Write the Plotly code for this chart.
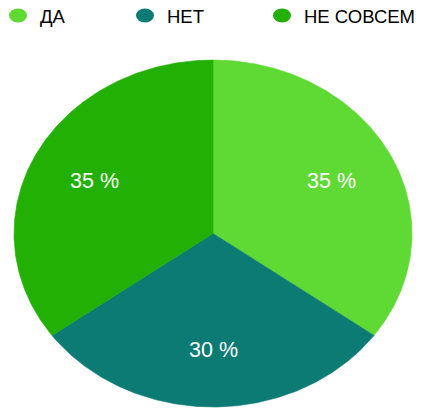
import numpy as np
import plotly.graph_objects as go

categories = ["ДА", "НЕТ", "НЕ СОВСЕМ"]
values = [35, 30, 35]
labels = ["35 %", "30 %", "35 %"]
colors = ["#5fd934", "#0b7b74", "#22b004"]

W, H = 425, 416
cx, cy = 213, 233.5
rx, ry = 199, 173.5
label_r = 0.67
FONT = "Liberation Sans, Arial"

fig = go.Figure()
total = sum(values)
start = 0.0
for cat, val, lab, col in zip(categories, values, labels, colors):
    a0 = start / total * 2 * np.pi
    a1 = (start + val) / total * 2 * np.pi
    t = np.linspace(a0, a1, 200)
    xs = np.concatenate([[cx], cx + rx * np.sin(t), [cx]])
    ys = np.concatenate([[cy], cy - ry * np.cos(t), [cy]])
    fig.add_trace(go.Scatter(x=xs, y=ys, mode="lines", fill="toself",
                             fillcolor=col, line=dict(width=0.6, color=col),
                             name=cat, hoverinfo="name", showlegend=False))
    am = (a0 + a1) / 2
    fig.add_annotation(x=cx + label_r * rx * np.sin(am), y=cy - label_r * ry * np.cos(am),
                       text=lab, showarrow=False,
                       font=dict(family=FONT, size=21.5, color="white"))
    start += val

# legend
leg_x = [18, 145, 282]
leg_y = 15.5
for cat, col, lx in zip(categories, colors, leg_x):
    fig.add_shape(type="circle", xref="x", yref="y", x0=lx - 9, x1=lx + 9,
                  y0=leg_y - 7, y1=leg_y + 7, fillcolor=col, line=dict(width=0))
    fig.add_annotation(x=lx + 20, y=leg_y + 0.5, text=cat, showarrow=False, xanchor="left",
                       font=dict(family=FONT, size=18.5, color="black"))

fig.update_layout(width=W, height=H, margin=dict(l=0, r=0, t=0, b=0),
                  paper_bgcolor="white", plot_bgcolor="white", showlegend=False,
                  xaxis=dict(range=[0, W], visible=False, fixedrange=True),
                  yaxis=dict(range=[H, 0], visible=False, fixedrange=True))
fig.write_html("out.html", config={"displayModeBar": False, "staticPlot": True},
               post_script="document.body.style.margin='0';document.body.style.overflow='hidden';")
